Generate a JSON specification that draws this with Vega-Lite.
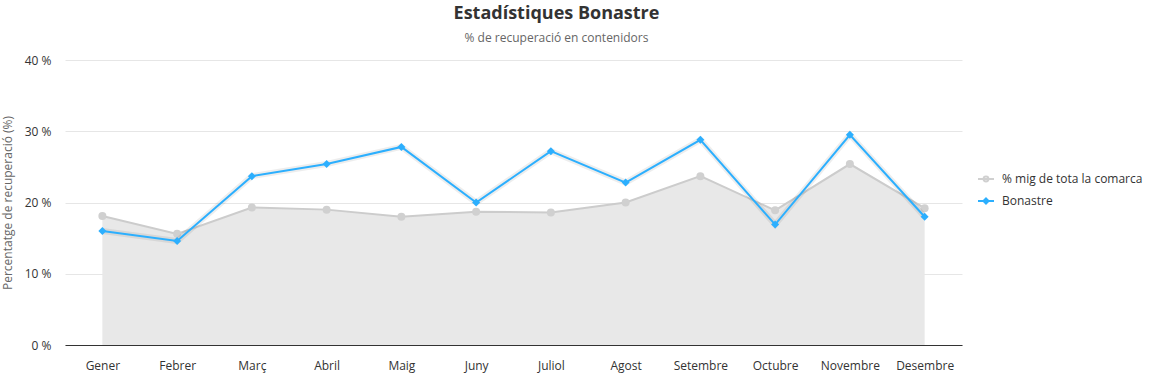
{
  "$schema": "https://vega.github.io/schema/vega-lite/v6.json",
  "autosize": {"type": "none"},
  "padding": {"left": 65, "top": 60, "right": 192, "bottom": 30},
  "width": 897,
  "height": 285,
  "background": "white",
  "config": {
    "font": "Open Sans",
    "view": {"stroke": null}
  },
  "title": {
    "text": "Estadístiques Bonastre",
    "subtitle": "% de recuperació en contenidors",
    "anchor": "middle",
    "frame": "group",
    "dx": 43,
    "fontSize": 18,
    "fontWeight": "bold",
    "color": "#333333",
    "subtitleFontSize": 12,
    "subtitleColor": "#666666",
    "subtitlePadding": 10,
    "offset": 10
  },
  "data": {
    "values": [
      {"mes": "Gener", "serie": "% mig de tota la comarca", "valor": 18.1},
      {"mes": "Febrer", "serie": "% mig de tota la comarca", "valor": 15.6},
      {"mes": "Març", "serie": "% mig de tota la comarca", "valor": 19.3},
      {"mes": "Abril", "serie": "% mig de tota la comarca", "valor": 19.0},
      {"mes": "Maig", "serie": "% mig de tota la comarca", "valor": 18.0},
      {"mes": "Juny", "serie": "% mig de tota la comarca", "valor": 18.7},
      {"mes": "Juliol", "serie": "% mig de tota la comarca", "valor": 18.6},
      {"mes": "Agost", "serie": "% mig de tota la comarca", "valor": 20.0},
      {"mes": "Setembre", "serie": "% mig de tota la comarca", "valor": 23.7},
      {"mes": "Octubre", "serie": "% mig de tota la comarca", "valor": 18.9},
      {"mes": "Novembre", "serie": "% mig de tota la comarca", "valor": 25.4},
      {"mes": "Desembre", "serie": "% mig de tota la comarca", "valor": 19.2},
      {"mes": "Gener", "serie": "Bonastre", "valor": 16.0},
      {"mes": "Febrer", "serie": "Bonastre", "valor": 14.6},
      {"mes": "Març", "serie": "Bonastre", "valor": 23.7},
      {"mes": "Abril", "serie": "Bonastre", "valor": 25.4},
      {"mes": "Maig", "serie": "Bonastre", "valor": 27.8},
      {"mes": "Juny", "serie": "Bonastre", "valor": 20.0},
      {"mes": "Juliol", "serie": "Bonastre", "valor": 27.2},
      {"mes": "Agost", "serie": "Bonastre", "valor": 22.8},
      {"mes": "Setembre", "serie": "Bonastre", "valor": 28.8},
      {"mes": "Octubre", "serie": "Bonastre", "valor": 16.9},
      {"mes": "Novembre", "serie": "Bonastre", "valor": 29.5},
      {"mes": "Desembre", "serie": "Bonastre", "valor": 18.0}
    ]
  },
  "encoding": {
    "x": {
      "field": "mes",
      "type": "ordinal",
      "sort": null,
      "title": null,
      "scale": {"type": "point", "padding": 0.5},
      "axis": {
        "labelAngle": 0,
        "labelFontSize": 12,
        "labelColor": "#333333",
        "labelPadding": 15,
        "domainColor": "#333333",
        "domainWidth": 1,
        "ticks": false,
        "grid": false
      }
    },
    "y": {
      "field": "valor",
      "type": "quantitative",
      "title": "Percentatge de recuperació (%)",
      "scale": {"domain": [0, 40]},
      "axis": {
        "values": [0, 10, 20, 30, 40],
        "labelExpr": "datum.value + ' %'",
        "labelFontSize": 12,
        "labelColor": "#333333",
        "labelPadding": 14,
        "domain": false,
        "ticks": false,
        "gridColor": "#e6e6e6",
        "titleFontSize": 12,
        "titleFontWeight": "normal",
        "titleColor": "#666666",
        "titleX": -51
      }
    }
  },
  "layer": [
    {
      "transform": [{"filter": "datum.serie === '% mig de tota la comarca'"}],
      "mark": {"type": "area", "color": "#e8e8e8", "opacity": 1, "line": {"color": "#cccccc", "strokeWidth": 2}}
    },
    {
      "transform": [{"filter": "datum.serie === '% mig de tota la comarca'"}],
      "mark": {"type": "point", "shape": "circle", "filled": true, "size": 64, "color": "#d0d0d0", "opacity": 1}
    },
    {
      "transform": [{"filter": "datum.serie === 'Bonastre'"}],
      "mark": {"type": "line", "color": "#000000", "strokeWidth": 6, "opacity": 0.07}
    },
    {
      "transform": [{"filter": "datum.serie === 'Bonastre'"}],
      "mark": {"type": "line", "color": "#2caffe", "strokeWidth": 2}
    },
    {
      "transform": [{"filter": "datum.serie === 'Bonastre'"}],
      "mark": {"type": "point", "shape": "diamond", "filled": true, "size": 64, "color": "#2caffe", "opacity": 1}
    },
    {
      "mark": {"type": "point", "opacity": 0, "strokeWidth": 2},
      "encoding": {
        "fill": {
          "field": "serie",
          "type": "nominal",
          "scale": {"domain": ["% mig de tota la comarca", "Bonastre"], "range": ["#d0d0d0", "#2caffe"]},
          "legend": {
            "title": null,
            "orient": "none",
            "legendX": 912,
            "legendY": 110,
            "symbolSize": 256,
            "symbolOpacity": 1,
            "symbolStrokeWidth": 2,
            "labelFontSize": 12,
            "labelColor": "#333333",
            "labelOffset": 7,
            "rowPadding": 6
          }
        },
        "stroke": {
          "field": "serie",
          "type": "nominal",
          "scale": {"domain": ["% mig de tota la comarca", "Bonastre"], "range": ["#d0d0d0", "#2caffe"]}
        },
        "shape": {
          "field": "serie",
          "type": "nominal",
          "scale": {
            "domain": ["% mig de tota la comarca", "Bonastre"],
            "range": [
              "M-1,0H1M0.3,0A0.3,0.3 0 1 1 -0.3,0A0.3,0.3 0 1 1 0.3,0Z",
              "M-1,0H1M0,-0.32L0.32,0L0,0.32L-0.32,0Z"
            ]
          }
        }
      }
    }
  ]
}
